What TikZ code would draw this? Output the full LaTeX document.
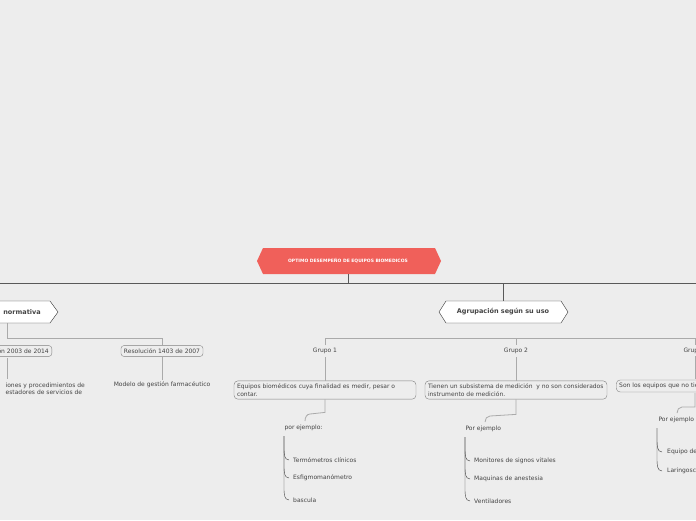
\documentclass[tikz,border=0pt]{standalone}
\usepackage{fontspec}
\setmainfont{DejaVu Sans}
\usetikzlibrary{positioning}
\definecolor{bg}{HTML}{EDEDED}
\definecolor{txt}{HTML}{444444}
\definecolor{root}{HTML}{F0605A}
\definecolor{link}{HTML}{AAAAAA}

\begin{document}
\begin{tikzpicture}[x=1pt,y=-1pt,font=\fontsize{6}{7.5}\selectfont,text=txt,
                    leaf/.style={inner sep=2pt,align=left},
                    tag/.style={draw=gray,rounded corners=3pt,fill=bg,inner sep=3pt},
                    textbox/.style={draw=gray,rounded corners=4pt,fill=bg,align=flush left,inner sep=3pt,text width=#1},
                    line/.style={draw=link,thick},
                    item/.style={anchor=west,inner sep=1pt}]
  \useasboundingbox[fill=bg] (0,0) rectangle (696,520);
  \clip (0,0) rectangle (696,520);
  \hyphenpenalty=10000

  % main topic
  \fill[root] (257,261) -- (263,248) -- (435,248) -- (441,261) -- (435,274) -- (263,274) -- cycle;
  \node[text=white,font=\fontsize{4.5}{5}\selectfont\bfseries] (root) at (348,261) {OPTIMO DESEMPEÑO DE EQUIPOS BIOMEDICOS};
  \draw[gray!70!black,thick] (348,274) -- (348,283);
  \draw[gray!70!black,thick] (0,283) -- (696,283);

  % branches
  \draw[fill=white,draw=gray!40!black] (-10,301) -- (50,301) -- (58,312) -- (50,323) -- (-10,323) -- cycle;
  \node[font=\fontsize{6.5}{7}\selectfont\bfseries] (norm) at (22,312) {normativa};
  \draw[fill=white,draw=gray!40!black] (439,312) -- (446,301) -- (561,301) -- (568,312) -- (561,323) -- (446,323) -- cycle;
  \node[font=\fontsize{6.5}{7}\selectfont\bfseries] (uso) at (503,312) {Agrupación según su uso};
  \draw[gray!70!black,thick] (503,283) -- (uso.north |- 0,301);

  % normativa
  \draw[line] (7,323) -- (7,338) -- (162,338) -- (162,345);
  \node[tag,anchor=east] (res2003) at (52,351) {Resolución 2003 de 2014};
  \node[tag] (res1403) at (162,351) {Resolución 1403 de 2007};
  \node[leaf,anchor=east] (proc) at (87,389) {iones y procedimientos de\\estadores de servicios de};
  \node[leaf] (modelo) at (162,385) {Modelo de gestión farmacéutico};
  \draw[line] (7,358) -- (7,379);
  \draw[line] (res1403) -- (modelo);

  % agrupacion
  \draw[line] (325,345) -- (325,338) -- (700,338);
  \draw[line] (516,338) -- (516,345);
  \draw[line] (695,338) -- (695,345);
  \node (g1) at (325,351) {Grupo 1};
  \node (g2) at (516,351) {Grupo 2};
  \node[anchor=west] (g3) at (680,351) {Grupo 3};

  \node[textbox=176pt] (d1) at (325,390) {Equipos biomédicos cuya finalidad es medir, pesar o contar.};
  \node[textbox=176pt] (d2) at (516,390) {Tienen un subsistema de medición\ \ y no son considerados instrumento de medición.};
  \node[textbox=176pt,anchor=west] (d3) at (616,386) {Son los equipos que no tienen subsistema de medición};
  \draw[line] (g1) -- (d1);
  \draw[line] (g2) -- (d2);
  \draw[line] (695,356) -- (695,379);

  \node[anchor=west] (e1) at (281,428) {por ejemplo:};
  \node[anchor=west] (e2) at (462,429) {Por ejemplo};
  \node[anchor=west] (e3) at (655,420) {Por ejemplo};
  \draw[line] (d1.south) -- ++(0,13) -- (310,414) to[out=180,in=90] (305,421);
  \draw[line] (d2.south) -- ++(0,15) -- (490,416) to[out=180,in=90] (485,422);
  \draw[line] (695,393) -- (695,407) -- (682,407) to[out=180,in=90] (677,413);

  % ejemplos
  \foreach \t/\y in {Termómetros clínicos/460,Esfigmomanómetro/478,bascula/500}
    \node[item] at (292,\y) {\t};
  \foreach \y in {460,478,500}
    \draw[gray!50!black] (284,436) -- (284,\y-12) to[out=-90,in=180] (289,\y);
  \foreach \t/\y in {Monitores de signos vitales/461,Maquinas de anestesia/479,Ventiladores/501}
    \node[item] at (473,\y) {\t};
  \foreach \y in {461,479,501}
    \draw[gray!50!black] (465,437) -- (465,\y-12) to[out=-90,in=180] (470,\y);
  \foreach \t/\y in {Equipo de órganos de los sentidos/452,Laringoscopio/471}
    \node[item] at (666,\y) {\t};
  \foreach \y in {452,471}
    \draw[gray!50!black] (657,428) -- (657,\y-12) to[out=-90,in=180] (662,\y);
\end{tikzpicture}
\end{document}
